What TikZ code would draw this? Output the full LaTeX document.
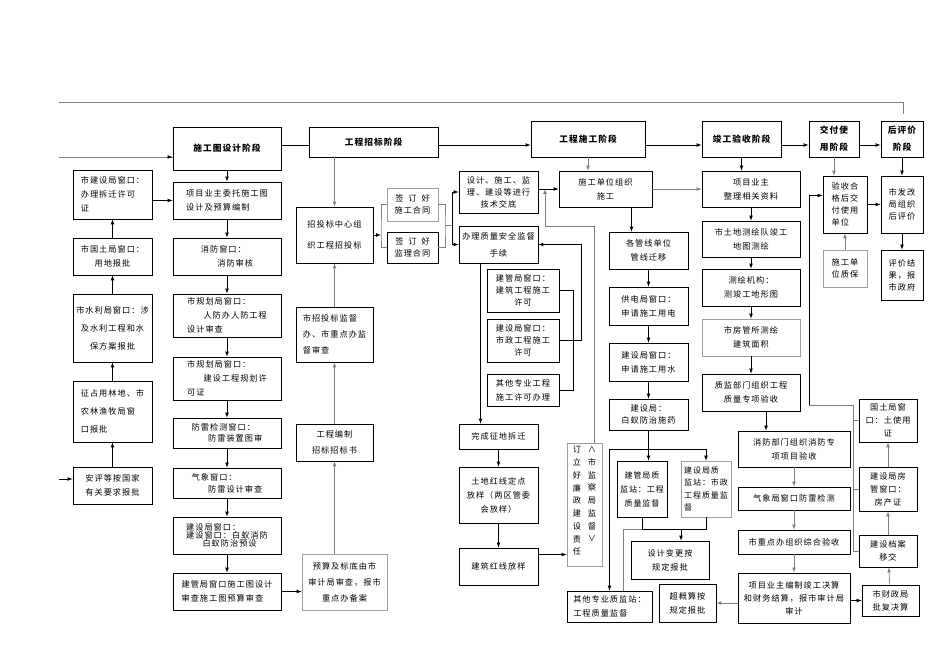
\documentclass[tikz,border=0pt]{standalone}
\usepackage{fontspec}
\setmainfont{Noto Sans CJK SC}[LetterSpace=12]
\tikzset{
  box/.style={draw,line width=0.8pt,inner sep=1pt,align=center,font=\fontsize{8.2}{14}\selectfont},
  gbox/.style={box,draw=gray!75},
  head/.style={box,font=\fontsize{8.7}{17}\bfseries\selectfont},
  line/.style={line width=0.7pt},
  arrow/.style={line,->},
  gline/.style={line,gray},
  garrow/.style={gline,->},
  vtext/.style={inner sep=0pt,align=center,anchor=north,font=\fontsize{8.2}{12.75}\selectfont}
}
% box from corner (x1,y1) to corner (x2,y2)
\newcommand{\flowbox}[7][]{%
  \pgfmathsetmacro\fbW{#5-#3}\pgfmathsetmacro\fbH{#6-#4}%
  \pgfmathsetmacro\fbX{(#3+#5)/2}\pgfmathsetmacro\fbY{(#4+#6)/2}%
  \node[box,minimum width=\fbW pt,minimum height=\fbH pt,#1] (#2) at (\fbX,\fbY) {#7};}

\begin{document}
\begin{tikzpicture}[x=1pt,y=-1pt,>=latex]
\useasboundingbox (0,0) rectangle (945,669);

%stages
\flowbox[head]{h1}{173}{127}{281}{170}{施工图设计阶段}
\flowbox[head]{h2}{309}{127}{438}{157}{工程招标阶段}
\flowbox[head]{h3}{531}{121}{645}{157}{工程施工阶段}
\flowbox[head]{h4}{702}{121}{781}{157}{竣工验收阶段}
\flowbox[head]{h5}{809}{121}{859}{157}{交付使\\用阶段}
\flowbox[head]{h6}{881}{121}{923}{157}{后评价\\阶段}

%left column
\flowbox[align=left]{c1a}{73}{170}{152}{219}{市建设局窗口：\\办理拆迁许可\\证}
\flowbox{c1b}{73}{238}{152}{275}{市国土局窗口：\\用地报批}
\flowbox[font=\fontsize{8.2}{18}\selectfont]{c1c}{73}{294}{152}{362}{市水利局窗口：涉\\及水利工程和水\\保方案报批}
\flowbox[align=left,font=\fontsize{8.2}{18}\selectfont]{c1d}{73}{381}{152}{442}{征占用林地、市\\农林渔牧局窗\\口报批}
\flowbox[align=left]{c1e}{73}{467}{152}{504}{安评等按国家\\有关要求报批}

%design column
\flowbox[align=left]{c2a}{173}{182}{281}{219}{项目业主委托施工图\\设计及预算编制}
\flowbox[align=left]{c2b}{173}{238}{281}{275}{消防窗口：\\\hspace*{2em}消防审核}
\flowbox[align=left]{c2c}{173}{294}{281}{337}{市规划局窗口：\\\hspace*{2em}人防办人防工程\\设计审查}
\flowbox[align=left]{c2d}{173}{357}{281}{400}{市规划局窗口：\\\hspace*{2em}建设工程规划许\\可证}
\flowbox[align=left,font=\fontsize{8.2}{11}\selectfont]{c2e}{173}{418}{281}{448}{防雷检测窗口：\\\hspace*{2em}防雷装置图审}
\flowbox[align=left,font=\fontsize{8.2}{12}\selectfont]{c2f}{173}{468}{281}{498}{气象窗口：\\\hspace*{2em}防雷设计审查}
\flowbox[align=left,font=\fontsize{8.2}{8}\selectfont]{c2g}{173}{517}{281}{554}{建设局窗口：\\建设窗口：白蚁消防\\\hspace*{2em}白蚁防治预设}
\flowbox[align=left]{c2h}{173}{573}{281}{610}{建管局窗口施工图设计\\审查施工图预算审查}

%tender column
\flowbox[font=\fontsize{8.2}{21}\selectfont]{c3a}{296}{207}{373}{263}{招投标中心组\\织工程招投标}
\flowbox[gbox,font=\fontsize{8.2}{12}\selectfont]{s1}{387}{188}{438}{221}{签\hspace{0.6em}订\hspace{0.6em}好\\施工合同}
\flowbox[font=\fontsize{8.2}{12}\selectfont]{s2}{387}{232}{438}{263}{签\hspace{0.6em}订\hspace{0.6em}好\\监理合同}
\flowbox[align=left,font=\fontsize{8.2}{16}\selectfont]{c3b}{296}{307}{373}{362}{市招投标监督\\办、市重点办监\\督审查}
\flowbox[font=\fontsize{8.2}{16}\selectfont]{c3c}{296}{424}{373}{461}{工程编制\\招标招标书}
\flowbox[gbox,font=\fontsize{8.2}{16}\selectfont]{c3d}{302}{554}{387}{610}{预算及标底由市\\审计局审查，报市\\重点办备案}

%construction column
\flowbox[font=\fontsize{8.2}{12}\selectfont]{c4a}{459}{171}{538}{213}{设计、施工、监\\理、建设等进行\\技术交底}
\flowbox[font=\fontsize{8.2}{17}\selectfont]{c4b}{459}{226}{538}{263}{办理质量安全监督\\手续}
\flowbox[font=\fontsize{8.2}{12}\selectfont]{c4c}{487}{269}{559}{312}{建管局窗口：\\建筑工程施工\\许可}
\flowbox[font=\fontsize{8.2}{12}\selectfont]{c4d}{487}{319}{559}{362}{建设局窗口：\\市政工程施工\\许可}
\flowbox[font=\fontsize{8.2}{14}\selectfont]{c4e}{487}{374}{559}{406}{其他专业工程\\施工许可办理}
\flowbox{c4f}{459}{424}{538}{449}{完成征地拆迁}
\flowbox[font=\fontsize{8.2}{14}\selectfont]{c4g}{459}{467}{538}{523}{土地红线定点\\放样（两区管委\\会放样）}
\flowbox{c4h}{459}{548}{538}{585}{建筑红线放样}
\flowbox[gbox]{lz}{567}{443}{602}{566}{}
\node[vtext] (lzl) at (577,446) {订\\立\\好\\廉\\政\\建\\设\\责\\任};
\node[vtext] (lzr) at (592,446) {∧\\市\\监\\察\\局\\监\\督\\∨};
\flowbox[align=left]{c4i}{567}{591}{652}{622}{其他专业质监站：\\工程质量监督}

\flowbox{c5a}{559}{171}{652}{207}{施工单位组织\\施工}
\flowbox{c5b}{609}{232}{688}{269}{各管线单位\\管线迁移}
\flowbox{c5c}{609}{287}{688}{325}{供电局窗口：\\申请施工用电}
\flowbox{c5d}{609}{343}{688}{381}{建设局窗口：\\申请施工用水}
\flowbox[font=\fontsize{8.2}{12}\selectfont]{c5e}{609}{399}{688}{430}{建设局：\\白蚁防治施药}
\flowbox[line width=1pt,font=\fontsize{8}{14}\selectfont]{c5f}{617}{461}{667}{517}{建管局质\\监站：工程\\质量监督}
\flowbox[gbox,align=left,font=\fontsize{8}{12.5}\selectfont]{c5g}{681}{461}{731}{517}{建设局质\\监站：市政\\工程质量监\\督}
\flowbox{c5h}{631}{541}{709}{579}{设计变更按\\规定报批}
\flowbox{c5i}{659}{584}{716}{622}{超概算按\\规定报批}

%acceptance column
\flowbox{c6a}{702}{171}{800}{207}{项目业主\\整理相关资料}
\flowbox{c6b}{702}{221}{800}{257}{市土地测绘队竣工\\地图测绘}
\flowbox{c6c}{702}{269}{800}{306}{测绘机构：\\测竣工地形图}
\flowbox[gbox]{c6d}{702}{319}{800}{356}{市房管所测绘\\建筑面积}
\flowbox{c6e}{702}{374}{800}{411}{质监部门组织工程\\质量专项验收}
\flowbox{c6f}{738}{431}{850}{467}{消防部门组织消防专\\项项目验收}
\flowbox{c6g}{738}{487}{850}{510}{气象局窗口防雷检测}
\flowbox{c6h}{738}{530}{850}{554}{市重点办组织综合验收}
\flowbox[font=\fontsize{8.2}{13}\selectfont]{c6i}{738}{573}{850}{623}{项目业主编制竣工决算\\和财务结算，报市审计局\\审计}

%handover and evaluation
\flowbox[align=left,font=\fontsize{8.2}{12}\selectfont]{c7a}{823}{176}{867}{233}{验收合\\格后交\\付使用\\单位}
\flowbox[gbox,align=left,font=\fontsize{8.2}{12}\selectfont]{c7b}{823}{250}{867}{287}{施工单\\位质保}
\flowbox[align=left,font=\fontsize{8.2}{12}\selectfont]{c7c}{881}{176}{923}{233}{市发改\\局组织\\后评价}
\flowbox[align=left,font=\fontsize{8.2}{12}\selectfont]{c7d}{881}{250}{923}{300}{评价结\\果，报\\市政府}
\flowbox[font=\fontsize{8.2}{13}\selectfont]{c7e}{859}{399}{917}{442}{国土局窗\\口：土使用\\证}
\flowbox[font=\fontsize{8.2}{13}\selectfont]{c7f}{859}{467}{917}{511}{建设局房\\管窗口：\\房产证}
\flowbox[font=\fontsize{8.2}{13}\selectfont]{c7g}{859}{535}{917}{567}{建设档案\\移交}
\flowbox[font=\fontsize{8.2}{13}\selectfont]{c7h}{862}{585}{919}{616}{市财政局\\批复决算}

%outer lines
\coordinate (topL) at (59,102);
\coordinate (topR) at (903,114);
\coordinate (inA) at (59,157);
\coordinate (inB) at (59,479);
\draw[gline] (topL) -| (topR);
\draw[gline] (inA) -- (inA -| h1.west);
\draw[arrow] ([xshift=-4pt]inA -| h1.west) -- (inA -| h1.west);
\draw[arrow] (inB) -- (inB -| c1e.west);

%stage chain
\draw[line] (h1.east |- 0,145) -- (h2.west |- 0,145);
\draw[arrow] (h2.east |- 0,145) -- (h3.west |- 0,145);
\draw[arrow] (h3.east |- 0,145) -- (h4.west |- 0,145);
\draw[arrow] (h4.east |- 0,145) -- (h5.west |- 0,145);
\draw[arrow] (h5.east |- 0,145) -- (h6.west |- 0,145);

%left column
\draw[arrow] (c1e) -- (c1d);
\draw[arrow] (c1d) -- (c1c);
\draw[arrow] (c1c) -- (c1b);
\draw[arrow] (c1b) -- (c1a);
\draw[arrow] (c1a.east |- c2a) -- (c2a.west);

%design column
\draw[arrow] (h1) -- (c2a);
\draw[arrow] (c2a) -- (c2b);
\draw[arrow] (c2b) -- (c2c);
\draw[arrow] (c2c) -- (c2d);
\draw[arrow] (c2d) -- (c2e);
\draw[arrow] (c2e) -- (c2f);
\draw[arrow] (c2f) -- (c2g);
\draw[arrow] (c2g) -- (c2h);
\draw[arrow] (c2h.east) -- (c2h.east -| c3d.west);

%tender column
\draw[garrow] (c3a.north |- h2.south) -- (c3a.north);
\draw[garrow] (c3b) -- (c3a);
\draw[garrow] (c3c) -- (c3b);
\draw[garrow] (c3c.south |- c3d.north) -- (c3c.south);
\coordinate (sj) at (381,235);
\coordinate (sk) at (445,225);
\coordinate (sm) at (452,225);
\draw[arrow] (c3a.east |- sj) -- (sj);
\draw[gline] (s1.west) -| (sj) |- (s2.west);
\draw[gline] (s1.east) -| (sk) |- (s2.east);
\draw[gline] (sk) -- (sm);
\draw[arrow] (sm) |- (c4a.west);
\draw[arrow] (sm) |- (c4b.west);

%construction
\draw[arrow] (c4a.east |- c5a.west) -- (c5a.west);
\coordinate (jd) at (545,226);
\draw[garrow] ([xshift=10pt]lz.north) |- (jd) -- (jd |- c5a.west);
\draw[line] (c4c.east) -- ++(14,0) |- (c4e.east);
\draw[arrow] (c4d.east) -- ++(22,0) |- (c4b.east);
\draw[arrow] ([xshift=-18pt]c4b.south) -- ([xshift=-18pt]c4f.north);
\draw[arrow] (c4f) -- (c4g);
\draw[arrow] (c4g) -- (c4h);
\draw[arrow] ([yshift=12pt]c4h.east) -- ([yshift=12pt]c4h.east -| lz.west);

\draw[garrow] (h3.south) -- (h3.south |- c5a.north);
\draw[arrow] ([xshift=-17pt]c5b.north |- c5a.south) -- ([xshift=-17pt]c5b.north);
\draw[arrow] (c5b) -- (c5c);
\draw[arrow] (c5c) -- (c5d);
\draw[arrow] (c5d) -- (c5e);
\coordinate (qa) at (c5e.south |- 0,449);
\draw[arrow] (c5e.south) -- (c5e.south |- c5f.north);
\draw[arrow] (qa) -| (c5g.north);
\draw[arrow] (qa) -| (c4i.north);
\coordinate (qb) at (681,529);
\coordinate (qc) at (623,529);
\draw[line] (c5f.south) |- (c5g.south |- qb) -- (c5g.south);
\draw[arrow] (qb) -- (qb |- c5h.north);
\draw[gline] (c5f.south |- qc) -- (qc) -- (qc |- c4i.north);
\draw[garrow] (c6i.west |- c5i.east) -- (c5i.east);

%acceptance
\draw[arrow] (h4.south) -- (h4.south |- c6a.north);
\draw[garrow] (c5a.east) -- (c6a.west);
\draw[arrow] (c6a) -- (c6b);
\draw[arrow] (c6b) -- (c6c);
\draw[arrow] (c6c) -- (c6d);
\draw[arrow] (c6d) -- (c6e);
\draw[arrow] ([xshift=15pt]c6e.south) -- ([xshift=15pt]c6e.south |- c6f.north);
\draw[garrow] (c6f) -- (c6g);
\draw[garrow] (c6g) -- (c6h);
\draw[garrow] (c6h) -- (c6i);
\draw[arrow] (c6i.east |- c7h.west) -- (c7h.west);

%handover and evaluation
\draw[garrow] (h5.south) -- (h5.south |- c7a.north);
\draw[garrow] (c7b) -- (c7a);
\draw[arrow] (c7a.east |- c7c.west) -- (c7c.west);
\draw[arrow] (h6) -- (c7c);
\draw[arrow] (c7c) -- (c7d);
\draw[garrow] (c7h) -- (c7g);
\draw[garrow] (c7g) -- (c7f);
\draw[garrow] (c7f) -- (c7e);
\coordinate (bk) at (853,405);
\coordinate (bl) at (809,405);
\draw[gline] (bk) |- (c7g.west);
\draw[gline] (c7e.west) -- (c7e.west -| bk);
\draw[gline] (c7f.west) -- (c7f.west -| bk);
\draw[gline] (bk) -- (bl);
\draw[arrow] (bl) |- ([yshift=9pt]c7a.west);
\end{tikzpicture}
\end{document}
